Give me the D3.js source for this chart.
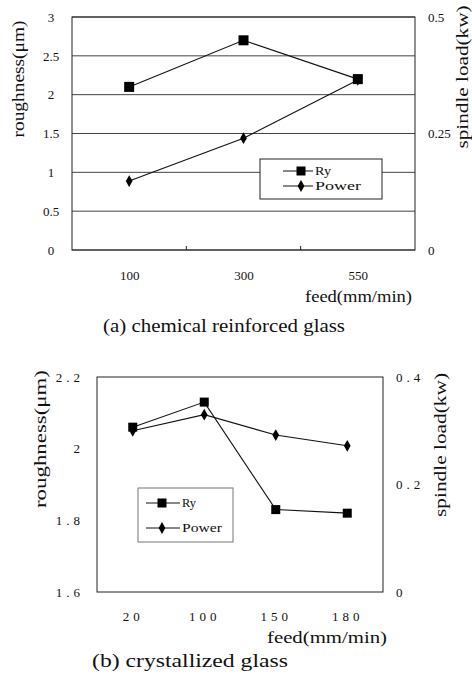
<!DOCTYPE html>
<html>
<head>
<meta charset="utf-8">
<script src="https://cdn.jsdelivr.net/npm/d3@7"></script>
<style>
  body { margin: 0; background: #fff; }
  svg { display: block; }
  text { font-family: "Liberation Serif", "Times New Roman", serif; fill: #111; }
</style>
</head>
<body>
<div id="chart"></div>
<script>
// (a) chemical reinforced glass
var feedA = ["100", "300", "550"]
var ryA = [2.1, 2.7, 2.2]
var powerA = [0.148, 0.24, 0.365]
var roughTicksA = [0, 0.5, 1, 1.5, 2, 2.5, 3]
var loadTicksA = [0, 0.25, 0.5]

// (b) crystallized glass
var feedB = ["20", "100", "150", "180"]
var ryB = [2.06, 2.13, 1.83, 1.82]
var powerB = [0.30, 0.33, 0.292, 0.272]
var roughTicksB = [1.6, 1.8, 2, 2.2]
var loadTicksB = [0, 0.2, 0.4]

var seriesNames = ["Ry", "Power"]

var serif = '"Liberation Serif", "Times New Roman", serif'

var svg = d3.select("#chart").append("svg").attr("width", 472).attr("height", 675)
svg.append("rect").attr("width", 472).attr("height", 675).attr("fill", "#fff")

function styleTicks(sel, spacing) {
  sel.attr("fill", "#000").style("font-size", "13px")
    .style("letter-spacing", spacing + "px").style("font-family", serif)
}

function drawPanel(o) {
  var g = svg.append("g").style("font-family", serif)
  var x = d3.scalePoint().domain(o.feed).range([o.left, o.right]).padding(0.5)
  var yL = d3.scaleLinear().domain(o.roughDomain).range([o.bottom, o.top])
  var yR = d3.scaleLinear().domain(o.loadDomain).range([o.bottom, o.top])

  // gridlines
  if (o.grid) {
    g.append("g").selectAll("line").data(o.roughTicks).enter().append("line")
      .attr("x1", o.left).attr("x2", o.right)
      .attr("y1", function(d){ return yL(d) }).attr("y2", function(d){ return yL(d) })
      .attr("stroke", "#444").attr("stroke-width", 1)
  }
  // frame
  g.append("rect").attr("x", o.left).attr("y", o.top)
    .attr("width", o.right - o.left).attr("height", o.bottom - o.top)
    .attr("fill", "none").attr("stroke", "#222").attr("stroke-width", 1)

  // small inward ticks between categories
  if (o.boundTicks) {
    var step = x.step()
    var bounds = d3.range(1, o.feed.length).map(function(i){ return o.left + step * i })
    g.append("g").selectAll("line").data(bounds).enter().append("line")
      .attr("x1", function(d){ return d }).attr("x2", function(d){ return d })
      .attr("y1", o.bottom).attr("y2", o.bottom - 4)
      .attr("stroke", "#222")
  }

  // left axis
  var axL = g.append("g").attr("transform", "translate(" + o.left + ",0)")
    .call(d3.axisLeft(yL).tickValues(o.roughTicks).tickSize(0).tickFormat(d3.format("")))
  axL.select(".domain").remove()
  axL.attr("font-family", null)
  styleTicks(axL.selectAll("text").attr("x", o.leftLabelX - o.left).attr("text-anchor", o.leftAnchor), o.tickSpacing)

  // right axis
  var axR = g.append("g").attr("transform", "translate(" + o.right + ",0)")
    .call(d3.axisRight(yR).tickValues(o.loadTicks).tickSize(0).tickFormat(d3.format("")))
  axR.select(".domain").remove()
  axR.attr("font-family", null)
  styleTicks(axR.selectAll("text").attr("x", o.rightLabelX - o.right).attr("text-anchor", "start"), o.tickSpacing)

  // bottom axis
  var axB = g.append("g").attr("transform", "translate(0," + o.bottom + ")")
    .call(d3.axisBottom(x).tickSize(0))
  axB.select(".domain").remove()
  axB.attr("font-family", null)
  styleTicks(axB.selectAll("text").attr("y", o.xTickY - o.bottom).attr("dy", "0"), o.tickSpacing)

  // lines
  var lineR = d3.line().x(function(d, i){ return x(o.feed[i]) }).y(function(d){ return yL(d) })
  var lineP = d3.line().x(function(d, i){ return x(o.feed[i]) }).y(function(d){ return yR(d) })
  g.append("path").datum(o.power).attr("d", lineP).attr("fill", "none").attr("stroke", "#111").attr("stroke-width", 1.1)
  g.append("path").datum(o.ry).attr("d", lineR).attr("fill", "none").attr("stroke", "#111").attr("stroke-width", 1.1)

  var sq = o.sq
  g.append("g").selectAll("rect").data(o.ry).enter().append("rect")
    .attr("x", function(d, i){ return x(o.feed[i]) - sq / 2 })
    .attr("y", function(d){ return yL(d) - sq / 2 })
    .attr("width", sq).attr("height", sq).attr("fill", "#000")
  var diamond = d3.symbol().type(d3.symbolDiamond).size(o.dia)
  g.append("g").selectAll("path").data(o.power).enter().append("path")
    .attr("d", diamond)
    .attr("transform", function(d, i){ return "translate(" + x(o.feed[i]) + "," + yR(d) + ")" })
    .attr("fill", "#000")

  // legend
  var L = o.legend
  g.append("rect").attr("x", L.x).attr("y", L.y).attr("width", L.w).attr("height", L.h)
    .attr("fill", "#fff").attr("stroke", L.stroke).attr("stroke-width", 1)
  seriesNames.forEach(function(name, i){
    var yy = L.y + L.rows[i]
    g.append("line").attr("x1", L.lx1).attr("x2", L.lx2).attr("y1", yy).attr("y2", yy).attr("stroke", "#111")
    if (i == 0) {
      g.append("rect").attr("x", L.mx - L.sq / 2).attr("y", yy - L.sq / 2).attr("width", L.sq).attr("height", L.sq).attr("fill", "#000")
    } else {
      g.append("path").attr("d", diamond).attr("transform", "translate(" + L.mx + "," + yy + ")").attr("fill", "#000")
    }
    g.append("text").text(name).attr("x", L.lx2 + 2).attr("y", yy + 4).style("font-size", L.font + "px")
      .attr("textLength", L.lens[i]).attr("lengthAdjust", "spacingAndGlyphs")
  })

  // axis titles (both read bottom to top)
  g.append("text").text("roughness(\u03bcm)")
    .attr("transform", "translate(" + o.yTitleL.x + "," + o.yTitleL.y + ") rotate(-90)")
    .attr("text-anchor", "middle").style("font-size", "17px")
    .attr("textLength", o.yTitleL.len).attr("lengthAdjust", "spacingAndGlyphs")
  g.append("text").text("spindle load(kw)")
    .attr("transform", "translate(" + o.yTitleR.x + "," + o.yTitleR.y + ") rotate(-90)")
    .attr("text-anchor", "middle").style("font-size", "17px")
    .attr("textLength", o.yTitleR.len).attr("lengthAdjust", "spacingAndGlyphs")
  g.append("text").text("feed(mm/min)")
    .attr("x", o.xTitle.x).attr("y", o.xTitle.y).attr("text-anchor", "start").style("font-size", "16px")
    .attr("textLength", o.xTitle.len).attr("lengthAdjust", "spacingAndGlyphs")
  g.append("text").text(o.caption)
    .attr("x", o.cap.x).attr("y", o.cap.y).attr("text-anchor", "start").style("font-size", "19px")
    .attr("textLength", o.cap.len).attr("lengthAdjust", "spacingAndGlyphs")
}

drawPanel({
  feed: feedA, ry: ryA, power: powerA, roughTicks: roughTicksA, loadTicks: loadTicksA,
  roughDomain: [0, 3], loadDomain: [0, 0.5],
  left: 72, right: 415, top: 17, bottom: 250, grid: true, boundTicks: true,
  leftLabelX: 51, leftAnchor: "middle", rightLabelX: 428, tickSpacing: 0, xTickY: 280,
  sq: 10, dia: 40,
  legend: {x: 260, y: 159, w: 122, h: 40, rows: [12, 27], lx1: 283, lx2: 313, mx: 301, sq: 9, font: 12,
           lens: [16, 46], stroke: "#222"},
  yTitleL: {x: 24, y: 79, len: 117}, yTitleR: {x: 468, y: 77, len: 143},
  xTitle: {x: 305, y: 302, len: 107},
  caption: "(a) chemical reinforced glass", cap: {x: 103, y: 332, len: 242}
})

drawPanel({
  feed: feedB, ry: ryB, power: powerB, roughTicks: roughTicksB, loadTicks: loadTicksB,
  roughDomain: [1.6, 2.2], loadDomain: [0, 0.4],
  left: 97, right: 383, top: 377, bottom: 592, grid: false, boundTicks: false,
  leftLabelX: 84, leftAnchor: "end", rightLabelX: 396, tickSpacing: 4, xTickY: 621,
  sq: 9, dia: 40,
  legend: {x: 138, y: 488, w: 95, h: 54, rows: [15, 40], lx1: 146, lx2: 180, mx: 162, sq: 9, font: 12,
           lens: [14, 40], stroke: "#777"},
  yTitleL: {x: 46, y: 439, len: 138}, yTitleR: {x: 446, y: 445, len: 144},
  xTitle: {x: 267, y: 643, len: 120},
  caption: "(b) crystallized glass", cap: {x: 92, y: 667, len: 196}
})
</script>
</body>
</html>
